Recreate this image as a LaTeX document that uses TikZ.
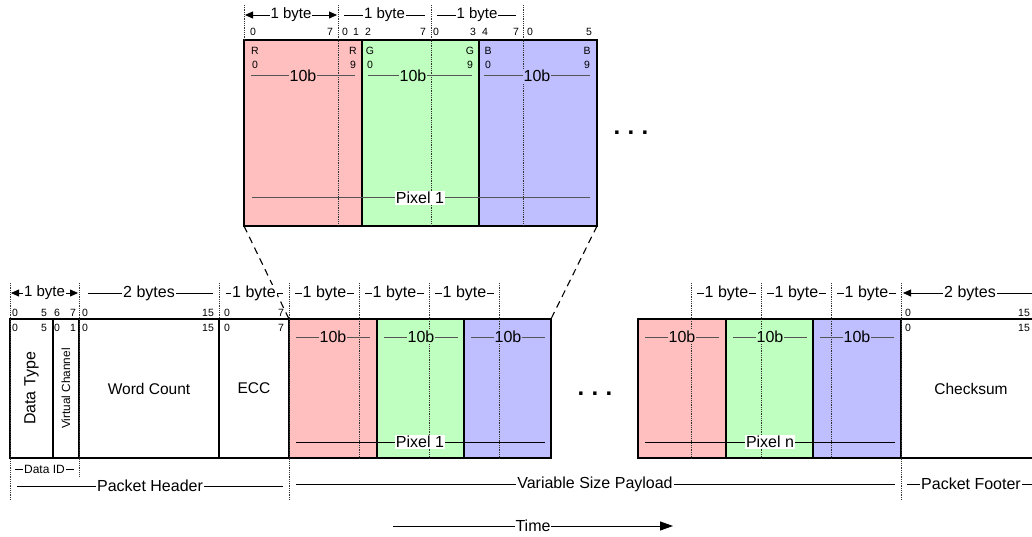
\documentclass[tikz,border=0pt]{standalone}
\usepackage{fontspec}
\setmainfont{Liberation Sans}
\usetikzlibrary{arrows.meta}
\definecolor{redfield}{RGB}{255,191,191}
\definecolor{greenfield}{RGB}{191,255,191}
\definecolor{bluefield}{RGB}{191,191,255}
\definecolor{rulegray}{RGB}{85,85,85}
\begin{document}
\begin{tikzpicture}[x=1pt,y=-1pt,
  field/.style={draw=black, line width=1.8pt, anchor=north west, inner sep=0pt, outer sep=0pt,
    font=\fontsize{15.5}{18}\selectfont},
  bitlbl/.style={font=\fontsize{10.5}{12}\selectfont, inner sep=0pt},
  lbl/.style={font=\fontsize{16}{19}\selectfont, inner sep=1pt, fill=white},
  smalllbl/.style={font=\fontsize{12}{14}\selectfont, inner sep=1pt, fill=white},
  bytelbl/.style={font=\fontsize{15}{18}\selectfont, inner sep=1pt, fill=white},
  pbytelbl/.style={font=\fontsize{16}{19}\selectfont, inner sep=1pt, fill=white},
  bytegrid/.style={densely dotted, line width=0.8pt, black!80},
  dimline/.style={line width=0.8pt, black},
  widthline/.style={line width=1pt, rulegray},
  zoomline/.style={dash pattern=on 7pt off 5pt, line width=1.1pt},
  dimtips/.style={{Triangle[length=8pt,width=7pt]}-{Triangle[length=8pt,width=7pt]}},
  ellipsis/.style={font=\bfseries\fontsize{24}{24}\selectfont, inner sep=0pt}
]
\useasboundingbox (0,0) rectangle (1032,537);
\clip (0,0) rectangle (1032,537);

% ---------- enlarged first pixel ----------
\node[field, fill=redfield,   minimum width=118pt, minimum height=186pt] (zr) at (244,40) {};
\node[field, fill=greenfield, minimum width=117pt, minimum height=186pt] (zg) at (362,40) {};
\node[field, fill=bluefield,  minimum width=118pt, minimum height=186pt] (zb) at (479,40) {};

% byte boundaries
\draw[bytegrid] (244,5) -- (244,40);
\foreach \x in {338,431,523} \draw[bytegrid] (\x,5) -- (\x,226);

% byte widths
\draw[dimline, dimtips] (245,15) -- (337,15);
\node[bytelbl] (zbyte1) at (291,15) {1 byte};
\draw[dimline] (344,15) -- (425,15);
\node[bytelbl] (zbyte2) at (384.5,15) {1 byte};
\draw[dimline] (437,15) -- (516,15);
\node[bytelbl] (zbyte3) at (477,15) {1 byte};

% bit positions
\foreach \x/\t [count=\i] in {253/0,330/7,345/0,356/1,368/2,423/7,436/0,473/3,485/4,516/7,530/0,589/5}
  \node[bitlbl] (zbit\i) at (\x,32) {\t};

% component bit indices
\foreach \x/\t [count=\i] in {255/R,353/R,370/G,470/G,488/B,587/B}
  \node[bitlbl] (zcomp\i) at (\x,51) {\t};
\foreach \x/\t [count=\i] in {255/0,353/9,370/0,470/9,488/0,587/9}
  \node[bitlbl] (zidx\i) at (\x,65) {\t};

% 10-bit component widths
\draw[widthline] (251,76) -- (355,76);
\node[lbl, fill=redfield] (zr10) at (303,76) {10b};
\draw[widthline] (368,76) -- (472,76);
\node[lbl, fill=greenfield] (zg10) at (413,76) {10b};
\draw[widthline] (484,76) -- (590,76);
\node[lbl, fill=bluefield] (zb10) at (537,76) {10b};

% whole pixel width
\draw[widthline] (252,198) -- (590,198);
\node[lbl] (zpix) at (420,198) {Pixel 1};

\node[ellipsis] (dotsTop) at (631,133) {.\hspace{7.3pt}.\hspace{7.3pt}.};

% ---------- packet ----------
\node[field, minimum width=43pt,  minimum height=139pt] (dt)  at (10,319) {};
\node[field, minimum width=26pt,  minimum height=139pt] (vc)  at (53,319) {};
\node[field, minimum width=140pt, minimum height=139pt] (wc)  at (79,319) {Word Count};
\node[field, minimum width=70pt,  minimum height=139pt] (ecc) at (219,319) {ECC};
\node[field, fill=redfield,   minimum width=88pt, minimum height=139pt] (p1r) at (289,319) {};
\node[field, fill=greenfield, minimum width=87pt, minimum height=139pt] (p1g) at (377,319) {};
\node[field, fill=bluefield,  minimum width=87pt, minimum height=139pt] (p1b) at (464,319) {};
\node[field, fill=redfield,   minimum width=88pt, minimum height=139pt] (pnr) at (638,319) {};
\node[field, fill=greenfield, minimum width=87pt, minimum height=139pt] (png) at (726,319) {};
\node[field, fill=bluefield,  minimum width=88pt, minimum height=139pt] (pnb) at (813,319) {};
\node[field, minimum width=140pt, minimum height=139pt] (cs) at (901,319) {Checksum};

\node[rotate=90, font=\fontsize{16}{19}\selectfont, inner sep=0pt] (dtlbl) at (dt.center) {Data Type};
\node[rotate=90, font=\fontsize{11.8}{14}\selectfont, inner sep=0pt] (vclbl) at (vc.center) {Virtual Channel};

% zoom guides
\draw[zoomline] (zr.south west) -- (p1r.north west);
\draw[zoomline] (zb.south east) -- (p1b.north east);

% byte boundaries
\draw[bytegrid] (10,283) -- (10,500);
\draw[bytegrid] (79,283) -- (79,477);
\draw[bytegrid] (219,283) -- (219,319);
\draw[bytegrid] (289,283) -- (289,500);
\draw[bytegrid] (901,283) -- (901,500);
\foreach \x in {359,429,499,691,761,831} \draw[bytegrid] (\x,283) -- (\x,458);

% field widths
\draw[dimline, dimtips] (11,293) -- (78,293);
\node[bytelbl] (hb1) at (44.5,293) {1 byte};
\draw[dimline] (88,293) -- (213,293);
\node[pbytelbl] (hb2) at (149,293) {2 bytes};
\draw[dimline] (226,293) -- (283,293);
\node[pbytelbl] (hb3) at (254,293) {1 byte};
\foreach \x [count=\i] in {289,359,429,691,761,831} {
  \draw[dimline] (\x+6,293) -- (\x+65,293);
  \node[pbytelbl] (pb\i) at (\x+35.5,293) {1 byte};
}
\draw[dimline, {Triangle[length=8pt,width=7pt]}-] (903,293) -- (1041,293);
\node[pbytelbl] (fb) at (970,293) {2 bytes};

% bit positions above and inside the header
\foreach \x/\t [count=\i] in {15/0,44/5,57/6,73/7,85/0,208/15,227/0,281/7,908/0,1024/15}
  \node[bitlbl] (hbit\i) at (\x,313) {\t};
\foreach \x/\t [count=\i] in {15/0,44/5,57/0,73/1,85/0,208/15,227/0,281/7,908/0,1024/15}
  \node[bitlbl] (hidx\i) at (\x,328) {\t};

% 10-bit component widths
\foreach \x/\c [count=\i] in {289/redfield,377/greenfield,464/bluefield,638/redfield,726/greenfield,813/bluefield} {
  \draw[widthline] (\x+7,337) -- (\x+81,337);
  \node[lbl, fill=\c] (c10\i) at (\x+44,337) {10b};
}

% pixel widths
\draw[dimline] (296,442) -- (545,442);
\node[lbl] (pix1) at (420,442) {Pixel 1};
\draw[dimline] (645,442) -- (895,442);
\node[lbl] (pixn) at (770,442) {Pixel n};

\node[ellipsis] (dotsMid) at (595,394) {.\hspace{7.3pt}.\hspace{7.3pt}.};

% packet sections
\draw[dimline] (15,469) -- (74,469);
\node[smalllbl] (dataid) at (44.5,469) {Data ID};
\draw[dimline] (17,486) -- (283,486);
\node[lbl] (hdr) at (150,486) {Packet Header};
\draw[dimline] (296,484) -- (895,484);
\node[lbl] (payload) at (595,484) {Variable Size Payload};
\draw[dimline] (907,484) -- (1041,484);
\node[lbl] (footer) at (971,484) {Packet Footer};

% time axis
\draw[line width=1pt, -{Triangle[length=13pt,width=9pt]}] (393,526) -- (673,526);
\node[lbl] (time) at (533,526) {Time};
\end{tikzpicture}
\end{document}
